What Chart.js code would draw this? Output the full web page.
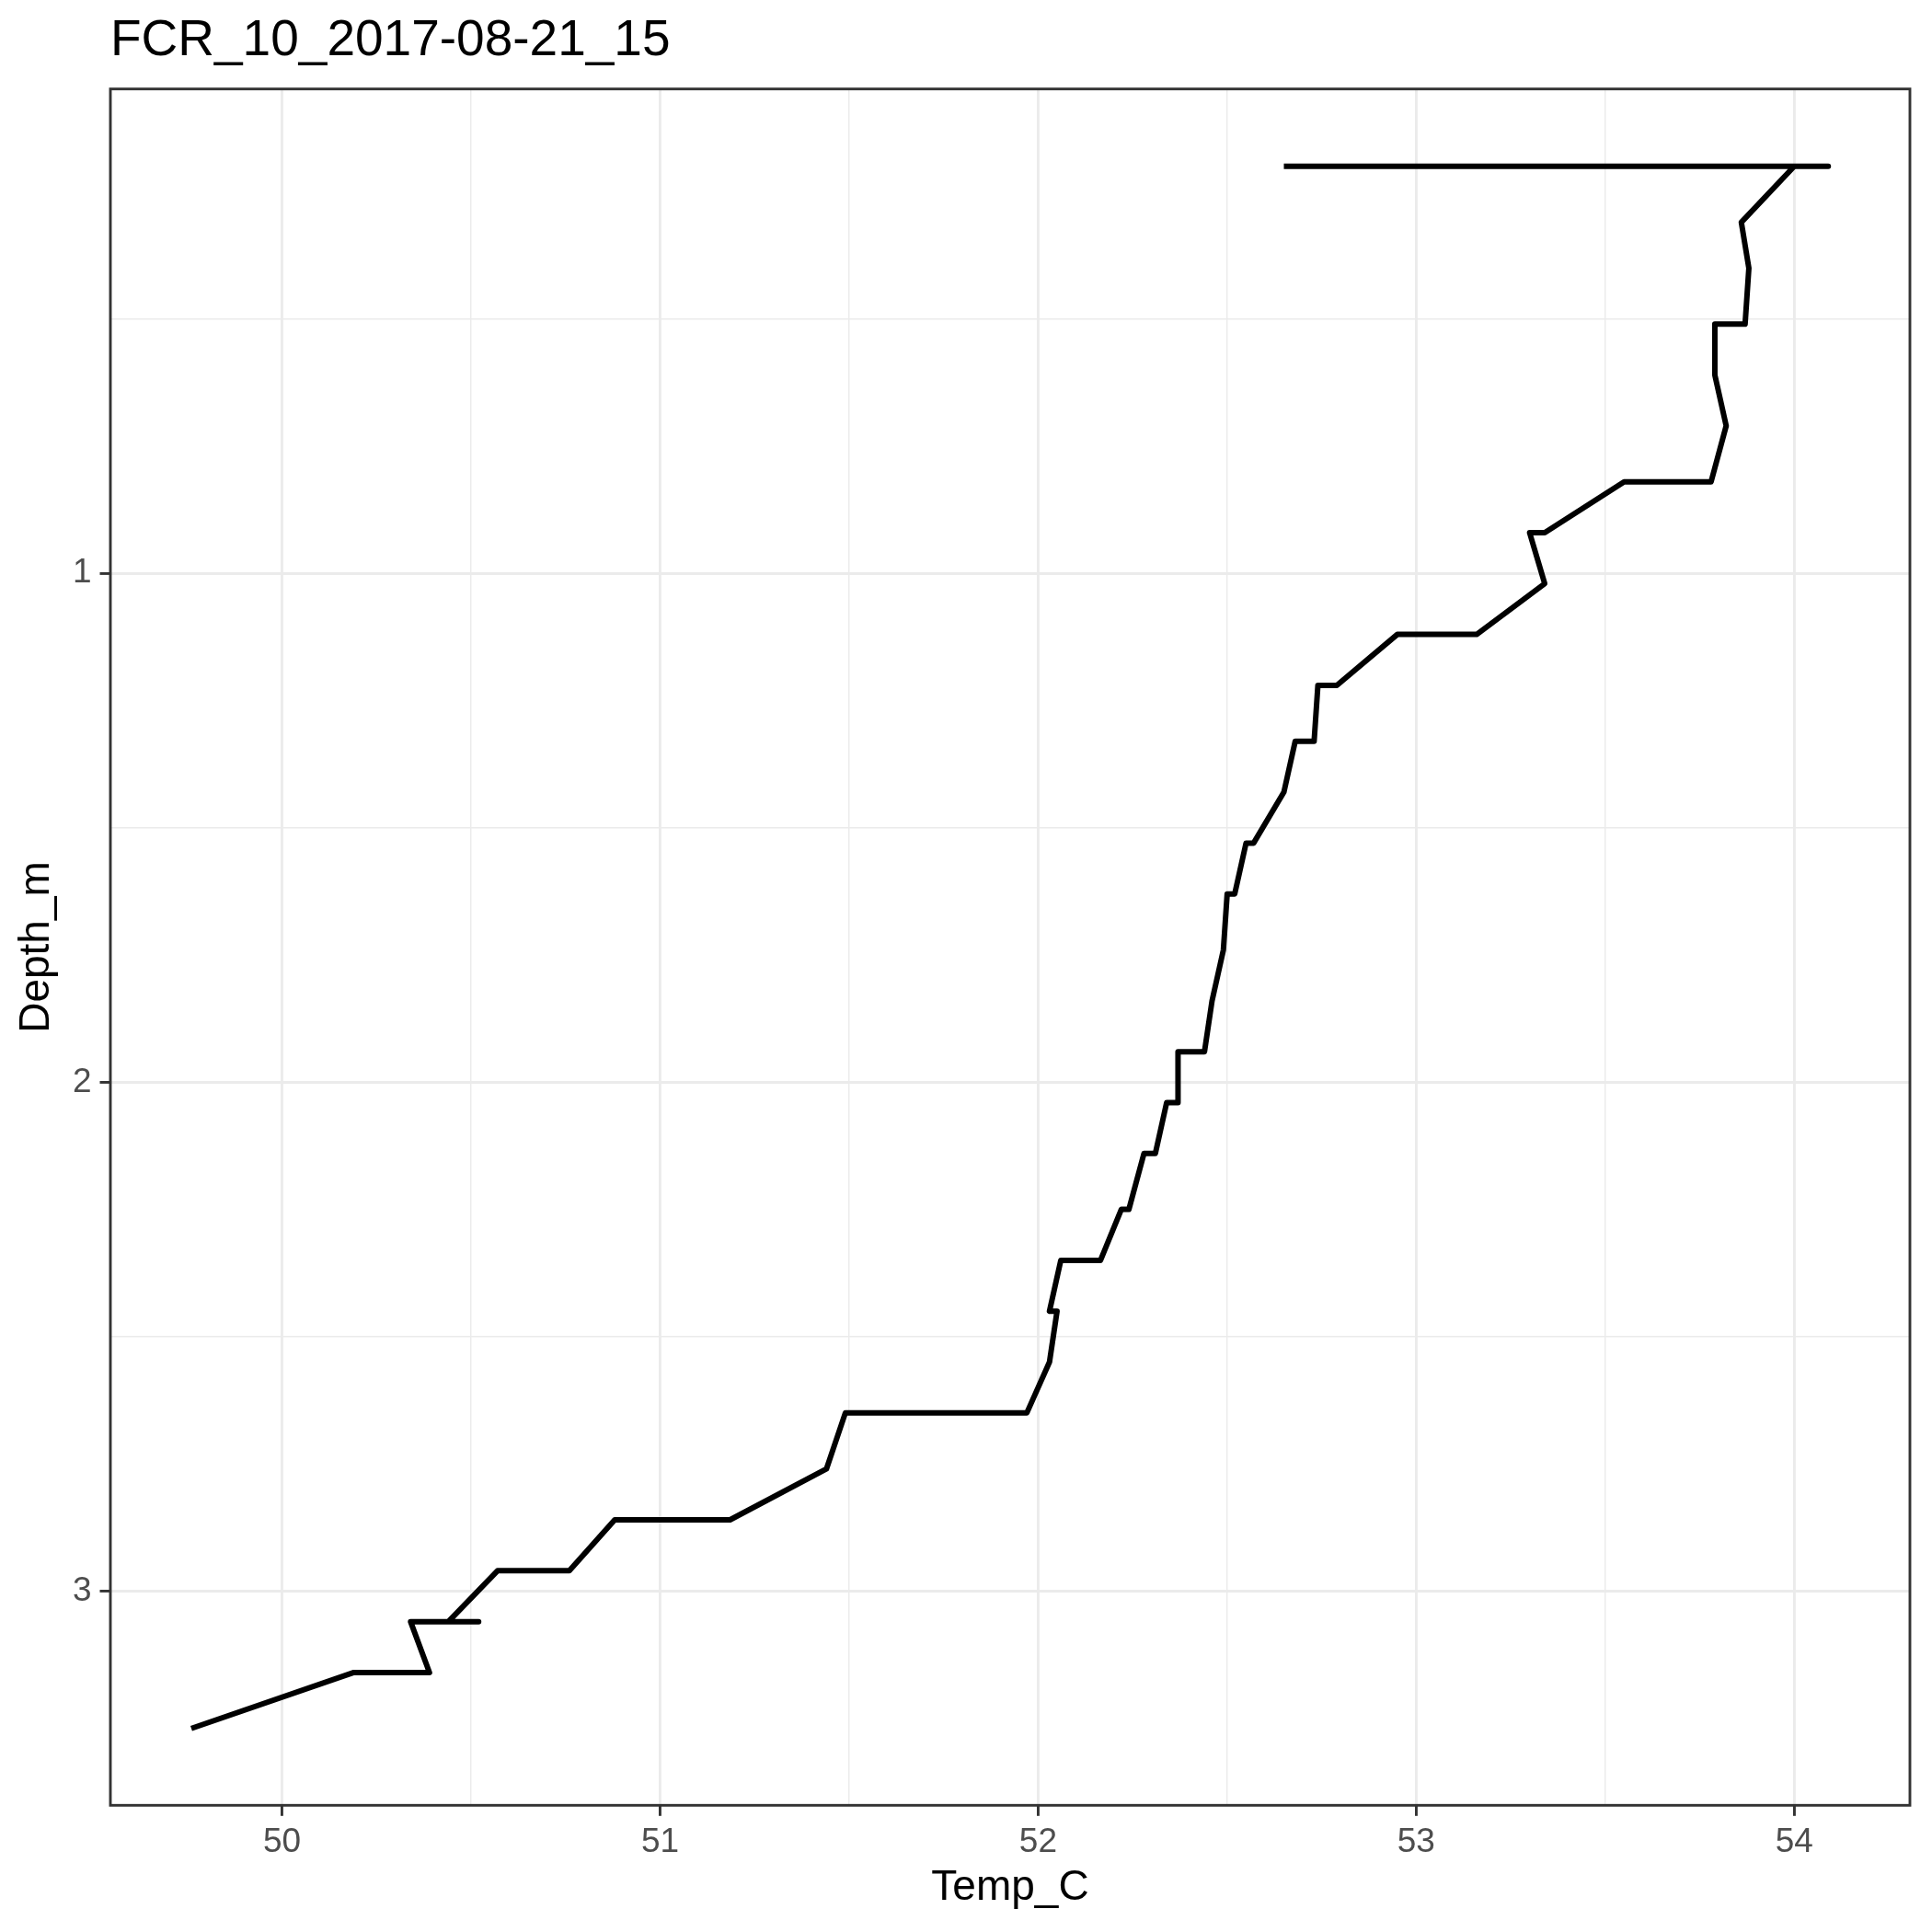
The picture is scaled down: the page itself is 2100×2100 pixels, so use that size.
<!DOCTYPE html>
<html>
<head>
<meta charset="utf-8">
<script src="https://cdn.jsdelivr.net/npm/chart.js@4/dist/chart.umd.min.js"></script>
<style>
  html, body { margin: 0; padding: 0; background: #ffffff; }
  #wrap { width: 2100px; height: 2100px; }
</style>
</head>
<body>
<div id="wrap"><canvas id="chart" width="2100" height="2100"></canvas></div>
<script>
// profile, in drawing order (top to bottom)
const temps = [52.65, 54.09, 54.00, 53.86, 53.88, 53.87, 53.79, 53.79, 53.82, 53.78,
  53.55, 53.34, 53.30, 53.34, 53.16, 52.95, 52.79, 52.74, 52.73, 52.68,
  52.65, 52.57, 52.55, 52.52, 52.50, 52.49, 52.46, 52.44, 52.37, 52.37,
  52.34, 52.31, 52.28, 52.24, 52.22, 52.165, 52.06, 52.03, 52.05, 52.03,
  51.97, 51.49, 51.44, 51.185, 50.88, 50.76, 50.57, 50.44, 50.52, 50.34,
  50.39, 50.19, 49.76];
const depths = [0.20, 0.20, 0.20, 0.31, 0.40, 0.51, 0.51, 0.61, 0.71, 0.82,
  0.82, 0.92, 0.92, 1.02, 1.12, 1.12, 1.22, 1.22, 1.33, 1.33,
  1.43, 1.53, 1.53, 1.63, 1.63, 1.74, 1.84, 1.94, 1.94, 2.04,
  2.04, 2.14, 2.14, 2.25, 2.25, 2.35, 2.35, 2.45, 2.45, 2.55,
  2.65, 2.65, 2.76, 2.86, 2.86, 2.96, 2.96, 3.06, 3.06, 3.06,
  3.16, 3.16, 3.27];

const xTicks = [50, 50.5, 51, 51.5, 52, 52.5, 53, 53.5, 54];
const yTicks = [0.5, 1, 1.5, 2, 2.5, 3];

const titleText = "FCR_10_2017-08-21_15";
const xTitle = "Temp_C";
const yTitle = "Depth_m";

const FONT = "'Liberation Sans', Arial, sans-serif";
const GRID = "#EBEBEB";
const DARK = "#333333";

const isMajor = (v) => Math.abs(v - Math.round(v)) < 1e-9;

// panel border drawn over everything, like ggplot's theme_bw
const panelBorder = {
  id: "panelBorder",
  afterDraw(chart) {
    const a = chart.chartArea;
    const ctx = chart.ctx;
    ctx.save();
    ctx.strokeStyle = DARK;
    ctx.lineWidth = 2.9;
    ctx.strokeRect(a.left, a.top, a.right - a.left, a.bottom - a.top);
    ctx.restore();
  }
};

const points = temps.map((t, i) => ({ x: t, y: depths[i] }));

new Chart(document.getElementById("chart"), {
  type: "scatter",
  data: {
    datasets: [{
      data: points,
      showLine: true,
      borderColor: "#000000",
      backgroundColor: "#000000",
      borderWidth: 6,
      borderJoinStyle: "round",
      borderCapStyle: "butt",
      pointRadius: 0,
      pointHoverRadius: 0,
      tension: 0
    }]
  },
  options: {
    responsive: false,
    devicePixelRatio: 1,
    animation: false,
    events: [],
    layout: { padding: { left: 0, right: 24, top: 0, bottom: 0 } },
    plugins: {
      legend: { display: false },
      tooltip: { enabled: false },
      title: {
        display: true,
        text: titleText,
        align: "start",
        fullSize: false,
        color: "#000000",
        font: { family: FONT, size: 55, weight: "normal", lineHeight: 1.2 },
        padding: { top: 12, bottom: 18.7 }
      }
    },
    scales: {
      x: {
        type: "linear",
        min: 49.546,
        max: 54.306,
        afterBuildTicks: (scale) => { scale.ticks = xTicks.map(v => ({ value: v })); },
        afterFit: (scale) => { scale.height = 137.7; },
        border: { display: false },
        grid: {
          color: GRID,
          lineWidth: (c) => isMajor(c.tick.value) ? 2.9 : 1.45,
          tickLength: 11.5,
          tickWidth: 2.9,
          tickColor: (c) => isMajor(c.tick.value) ? DARK : "rgba(0,0,0,0)"
        },
        ticks: {
          autoSkip: false,
          maxRotation: 0,
          padding: 7,
          color: "#4D4D4D",
          font: { family: FONT, size: 37 },
          callback: (v) => isMajor(v) ? String(Math.round(v)) : ""
        },
        title: {
          display: true,
          text: xTitle,
          color: "#000000",
          font: { family: FONT, size: 46, lineHeight: 1.2 },
          padding: { top: 0, bottom: 20.4 }
        }
      },
      y: {
        type: "linear",
        reverse: true,
        min: 0.048,
        max: 3.421,
        afterBuildTicks: (scale) => { scale.ticks = yTicks.map(v => ({ value: v })); },
        afterFit: (scale) => { scale.width = 120; },
        border: { display: false },
        grid: {
          color: GRID,
          lineWidth: (c) => isMajor(c.tick.value) ? 2.9 : 1.45,
          tickLength: 11.5,
          tickWidth: 2.9,
          tickColor: (c) => isMajor(c.tick.value) ? DARK : "rgba(0,0,0,0)"
        },
        ticks: {
          autoSkip: false,
          padding: 9,
          color: "#4D4D4D",
          font: { family: FONT, size: 37 },
          callback: (v) => isMajor(v) ? String(Math.round(v)) : ""
        },
        title: {
          display: true,
          text: yTitle,
          color: "#000000",
          font: { family: FONT, size: 46, lineHeight: 1.2 },
          padding: { top: 13.2, bottom: 0 }
        }
      }
    }
  },
  plugins: [panelBorder]
});
</script>
</body>
</html>
